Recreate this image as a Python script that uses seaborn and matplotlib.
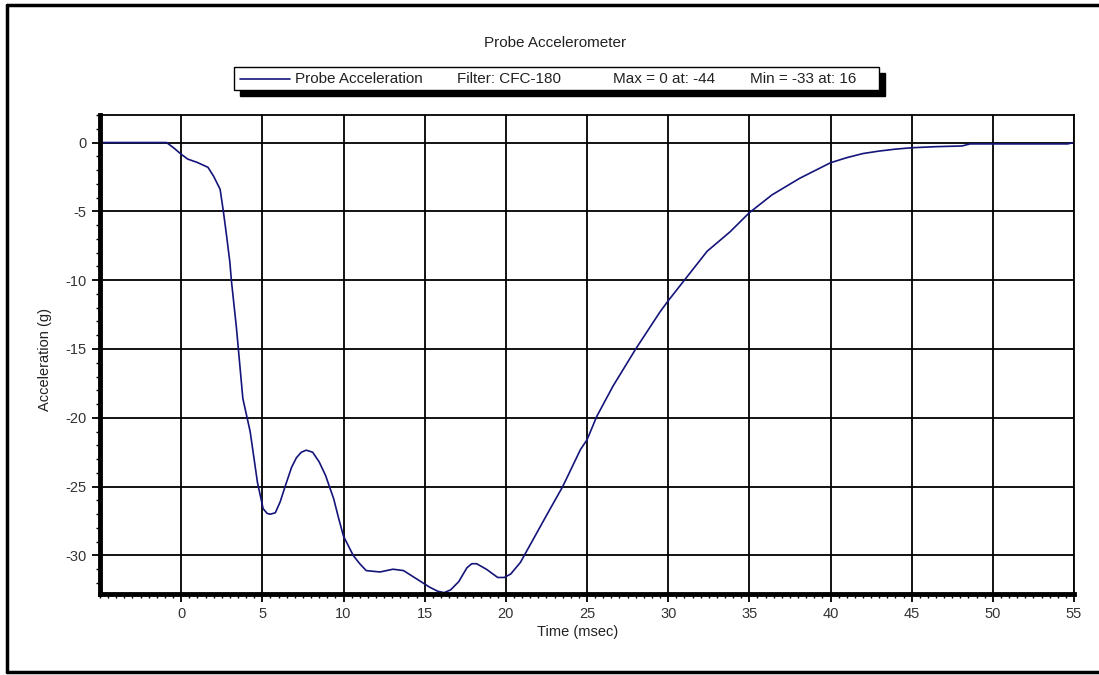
import matplotlib
matplotlib.use("Agg")
import matplotlib.pyplot as plt
from matplotlib.ticker import MultipleLocator
from matplotlib.patches import Rectangle
from matplotlib.lines import Line2D
import seaborn as sns
import pandas as pd

# curve
time_ms = [-5, -0.9, -0.5, 0, 0.4, 1.0, 1.65, 2.0, 2.4, 2.6, 2.8, 3.0, 3.1, 3.4,
           3.8, 4.25, 4.7, 5.05, 5.3, 5.5, 5.8, 6.1, 6.4, 6.8, 7.1, 7.4, 7.7,
           8.1, 8.5, 8.9, 9.4, 9.7, 10.0, 10.6, 11.0, 11.4, 12.25, 13.05, 13.7,
           14.5, 15.3, 15.8, 16.2, 16.6, 17.1, 17.6, 17.9, 18.2, 18.8, 19.5,
           19.9, 20.3, 20.9, 21.7, 22.5, 23.5, 24.6, 25.0, 25.6, 26.6, 28.0,
           29.5, 30.0, 31.0, 32.4, 33.8, 35.0, 36.4, 38.1, 40.0, 41.0, 42.0,
           43.0, 44.0, 45.0, 46.5, 48.1, 48.6, 54.6, 55]
accel_g = [0, 0, -0.35, -0.85, -1.2, -1.45, -1.8, -2.45, -3.4, -5.0, -6.8, -8.7,
           -10.1, -13.4, -18.6, -21.0, -24.7, -26.6, -26.95, -27.0, -26.9, -26.1,
           -25.0, -23.6, -22.9, -22.5, -22.35, -22.5, -23.2, -24.2, -25.9, -27.3,
           -28.6, -30.0, -30.6, -31.1, -31.2, -31.0, -31.1, -31.7, -32.3, -32.6,
           -32.7, -32.5, -31.9, -30.9, -30.6, -30.6, -31.0, -31.6, -31.6, -31.35,
           -30.5, -28.8, -27.1, -25.0, -22.3, -21.6, -19.9, -17.7, -15.0, -12.3,
           -11.5, -10.0, -7.9, -6.5, -5.1, -3.8, -2.6, -1.47, -1.1, -0.8, -0.62,
           -0.48, -0.38, -0.3, -0.25, -0.1, -0.1, 0]

x_ticks = [0, 5, 10, 15, 20, 25, 30, 35, 40, 45, 50, 55]
y_ticks = [0, -5, -10, -15, -20, -25, -30]

legend_items = ["Probe Acceleration", "Filter: CFC-180", "Max = 0 at: -44", "Min = -33 at: 16"]

df = pd.DataFrame({"time": time_ms, "accel": accel_g})

sns.set_style("white")
plt.rcParams["font.family"] = ["Liberation Sans", "DejaVu Sans"]
plt.rcParams["axes.unicode_minus"] = False

W, H = 1099, 675
fig = plt.figure(figsize=(W / 100, H / 100), dpi=100)
ax = fig.add_axes([100 / W, 1 - 594 / H, (1074 - 100) / W, (594 - 115) / H])

line_color = "#14147a"
sns.lineplot(data=df, x="time", y="accel", ax=ax, color=line_color,
             linewidth=1.2, estimator=None, sort=False)

ax.set_xlim(-5, 55)
ax.set_ylim(-32.8, 2)
ax.set_xticks(x_ticks)
ax.set_yticks(y_ticks)
ax.xaxis.set_minor_locator(MultipleLocator(0.5))
ax.yaxis.set_minor_locator(MultipleLocator(1))
ax.grid(True, which="major", color="black", linewidth=1.3)

for side in ["left", "bottom"]:
    ax.spines[side].set_linewidth(3.5)
    ax.spines[side].set_color("black")
for side in ["top", "right"]:
    ax.spines[side].set_linewidth(1.3)
    ax.spines[side].set_color("black")

ax.tick_params(which="major", direction="out", length=6, width=1.3,
               labelsize=10.5, labelcolor="#333333", color="black", left=True, bottom=True)
ax.tick_params(which="minor", direction="out", length=3, width=1,
               color="black", left=True, bottom=True)

ax.set_xlabel("Time (msec)", fontsize=10.5, color="#222222")
ax.set_ylabel("Acceleration (g)", fontsize=10.5, color="#222222")
ax.xaxis.set_label_coords((578 - 100) / (1074 - 100), -(625 - 594) / (594 - 115))
ax.yaxis.set_label_coords(-(100 - 52) / (1074 - 100), 0.49)

# title
fig.text(555 / W, 1 - 43 / H, "Probe Accelerometer", ha="center", va="center",
         fontsize=11, color="#222222")

# legend box with drop shadow
bx0, by0, bx1, by1 = 234, 67, 879, 90
fig.patches.append(Rectangle(((bx0 + 6) / W, 1 - (by1 + 6) / H), (bx1 - bx0) / W, (by1 - by0) / H,
                             transform=fig.transFigure, facecolor="black", edgecolor="black"))
fig.patches.append(Rectangle((bx0 / W, 1 - by1 / H), (bx1 - bx0) / W, (by1 - by0) / H,
                             transform=fig.transFigure, facecolor="white", edgecolor="black",
                             linewidth=1))
ly = 1 - 79 / H
fig.lines.append(Line2D([240 / W, 290 / W], [ly, ly], transform=fig.transFigure,
                        color=line_color, linewidth=1.2))
for xpos, txt in zip([295, 457, 613, 750], legend_items):
    fig.text(xpos / W, ly, txt, ha="left", va="center", fontsize=11, color="#222222")

# outer frame
fig.lines.append(Line2D([7 / W, 7 / W], [1 - 672 / H, 1 - 5 / H], transform=fig.transFigure,
                        color="black", linewidth=2.5))
fig.lines.append(Line2D([7 / W, 1], [1 - 5 / H, 1 - 5 / H], transform=fig.transFigure,
                        color="black", linewidth=2.5))
fig.lines.append(Line2D([7 / W, 1], [1 - 672 / H, 1 - 672 / H], transform=fig.transFigure,
                        color="black", linewidth=2.5))

fig.savefig("out.png", dpi=100)
